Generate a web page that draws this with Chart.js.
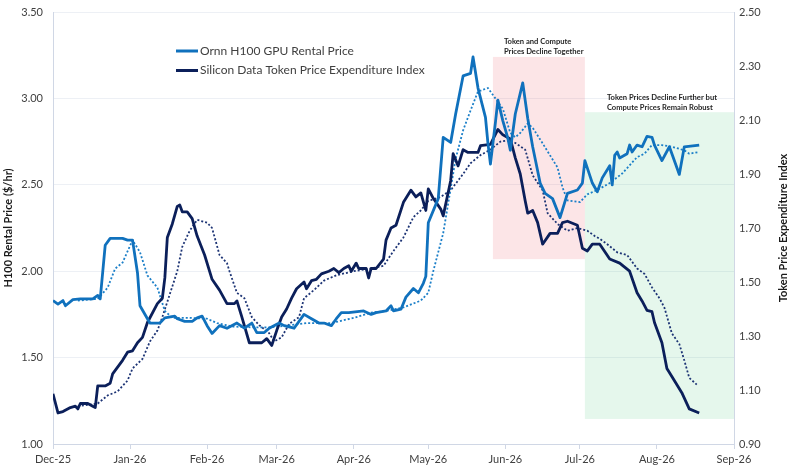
<!DOCTYPE html>
<html>
<head>
<meta charset="utf-8">
<script src="https://cdn.jsdelivr.net/npm/chart.js@4.4.1/dist/chart.umd.min.js"></script>
<style>
  html, body { margin: 0; padding: 0; background: #fff; }
  #wrap { width: 793px; height: 473px; }
</style>
</head>
<body>
<div id="wrap"><canvas id="chart"></canvas></div>
<script>
// x = days since 1 Dec 2025
const monthStarts = [0, 31, 62, 90, 121, 151, 182, 212, 243, 274];
const monthLabels = ["Dec-25", "Jan-26", "Feb-26", "Mar-26", "Apr-26", "May-26", "Jun-26", "Jul-26", "Aug-26", "Sep-26"];
const priceTicks = [1.0, 1.5, 2.0, 2.5, 3.0, 3.5];
const indexTicks = [0.9, 1.1, 1.3, 1.5, 1.7, 1.9, 2.1, 2.3, 2.5];

// Ornn H100 GPU rental price ($/hr)
const ornnDays = [0,2,4,5,8,11,16,18,19,21,23,28,30,32,34,35,38,39,43,45,49,50,53,56,58,60,62,64,67,70,74,77,80,82,85,87,91,93,97,101,104,107,109,112,114,116,119,125,128,130,134,136,137,140,142,145,147,149,150,151,155,157,160,162,165,168,169,171,174,175,176,178,179,181,183,184,186,189,191,193,196,198,201,204,207,211,213,214,217,219,221,224,225,226,227,228,231,232,233,235,237,239,241,242,245,248,252,254,260];
const ornnPrice = [1.83,1.81,1.83,1.80,1.835,1.84,1.84,1.86,1.84,2.15,2.19,2.19,2.18,2.18,1.99,1.80,1.725,1.70,1.70,1.73,1.74,1.725,1.71,1.71,1.73,1.74,1.685,1.64,1.685,1.67,1.70,1.67,1.70,1.645,1.645,1.67,1.70,1.685,1.67,1.75,1.725,1.70,1.70,1.685,1.725,1.76,1.76,1.77,1.75,1.76,1.77,1.80,1.77,1.78,1.85,1.90,1.875,1.93,1.97,2.28,2.42,2.775,2.745,2.91,3.13,3.145,3.24,3.06,2.89,2.74,2.62,2.86,2.99,2.87,2.77,2.70,2.91,3.09,2.885,2.72,2.51,2.45,2.42,2.31,2.45,2.47,2.51,2.64,2.51,2.46,2.54,2.61,2.50,2.67,2.69,2.655,2.68,2.73,2.69,2.73,2.72,2.78,2.775,2.73,2.64,2.72,2.56,2.72,2.73];

// moving average of the rental price (dotted)
const ornnAvgDays = [10,18,22,25,28,32,35,38,42,45,48,55,62,66,72,80,87,94,102,112,121,128,134,141,148,151,153,157,162,165,168,171,175,178,181,184,186,188,191,193,197,203,205,207,212,215,219,224,229,235,238,241,245,249,254,256,260];
const ornnAvg = [1.83,1.84,1.905,2.015,2.05,2.18,2.11,1.975,1.905,1.77,1.73,1.73,1.725,1.70,1.68,1.675,1.675,1.685,1.70,1.70,1.73,1.76,1.77,1.79,1.83,1.875,2.00,2.22,2.65,2.815,2.93,3.04,3.06,3.00,2.94,2.80,2.775,2.80,2.855,2.83,2.74,2.60,2.485,2.41,2.40,2.445,2.47,2.51,2.565,2.66,2.68,2.73,2.73,2.72,2.70,2.68,2.69];

// Silicon Data token price expenditure index
const tokenDays = [0,2,4,7,9,10,11,14,16,17,18,21,23,24,28,30,32,34,36,38,42,44,45,46,48,50,51,52,54,56,58,61,64,67,70,73,74,76,79,84,86,88,90,92,94,96,98,101,102,104,106,108,111,113,115,117,119,120,122,123,126,127,128,130,133,134,136,138,141,144,146,148,150,151,153,156,157,160,161,163,165,167,171,172,176,179,181,184,186,188,190,191,193,195,197,200,203,205,207,211,213,215,217,220,224,228,232,235,237,239,241,242,245,247,249,253,256,260];
const tokenIndex = [1.086,1.015,1.02,1.035,1.04,1.03,1.05,1.05,1.04,1.035,1.115,1.115,1.125,1.16,1.21,1.24,1.245,1.275,1.295,1.35,1.42,1.44,1.515,1.665,1.715,1.78,1.785,1.76,1.76,1.735,1.67,1.60,1.51,1.47,1.42,1.42,1.43,1.37,1.275,1.275,1.29,1.265,1.32,1.37,1.40,1.44,1.475,1.50,1.475,1.505,1.51,1.53,1.54,1.55,1.535,1.55,1.56,1.54,1.57,1.55,1.55,1.515,1.55,1.55,1.585,1.655,1.70,1.71,1.795,1.84,1.815,1.83,1.765,1.845,1.81,1.77,1.745,1.875,1.975,1.93,1.99,1.98,1.98,2.005,2.01,2.065,2.045,2.03,1.96,1.90,1.80,1.755,1.765,1.72,1.64,1.68,1.68,1.72,1.725,1.71,1.625,1.615,1.64,1.64,1.585,1.57,1.54,1.46,1.43,1.395,1.39,1.35,1.275,1.18,1.15,1.09,1.03,1.015];

// moving average of the index (dotted)
const tokenAvgDays = [10,18,22,26,30,32,36,39,42,44,47,50,52,55,58,62,64,67,70,71,74,77,80,83,87,89,92,95,99,101,105,109,114,121,128,133,137,141,145,148,151,156,160,165,168,172,176,180,184,186,190,193,197,199,203,207,211,215,218,220,223,227,231,235,238,241,244,246,249,252,254,256,259];
const tokenAvg = [1.04,1.05,1.08,1.095,1.135,1.18,1.215,1.28,1.32,1.37,1.455,1.54,1.63,1.69,1.73,1.72,1.70,1.60,1.57,1.54,1.46,1.44,1.37,1.34,1.31,1.28,1.295,1.345,1.37,1.44,1.47,1.505,1.525,1.54,1.55,1.56,1.615,1.665,1.74,1.765,1.80,1.815,1.84,1.90,1.94,1.97,1.99,2.02,2.025,2.015,1.99,1.895,1.84,1.755,1.715,1.69,1.70,1.69,1.67,1.66,1.64,1.61,1.60,1.55,1.53,1.48,1.44,1.405,1.31,1.27,1.21,1.145,1.12];

// shaded periods (days / $ per hour) and their notes
const periodStart = [177, 214];
const periodEnd = [214, 274];
const periodLow = [2.07, 1.145];
const periodHigh = [3.24, 2.92];
const periodNotes = [
  ["Token and Compute", "Prices Decline Together"],
  ["Token Prices Decline Further but", "Compute Prices Remain Robust"]
];

const LIGHT = "#1071bd";
const NAVY = "#0b1f5a";
const FONT = "Lato, 'Open Sans', sans-serif";
const RIGHT_TITLE = "Token Price Expenditure Index";

const zip = (xs, ys) => xs.map((x, i) => ({ x: x, y: ys[i] }));

// largeur fixe des axes verticaux, sans la marge ajoutée par ticks.padding
const fixAxis = w => s => { s.width = w; s.paddingTop = 7; s.paddingBottom = 7; };

// Fonds colorés + notes
const periodsPlugin = {
  id: "periods",
  beforeDatasetsDraw(chart) {
    const { ctx, scales } = chart;
    const fills = ["rgba(236,110,120,0.18)", "rgba(70,195,120,0.14)"];
    ctx.save();
    periodStart.forEach((s, i) => {
      const x0 = scales.x.getPixelForValue(s);
      const x1 = scales.x.getPixelForValue(periodEnd[i]);
      const y0 = scales.yPrice.getPixelForValue(periodHigh[i]);
      const y1 = scales.yPrice.getPixelForValue(periodLow[i]);
      ctx.fillStyle = fills[i];
      ctx.fillRect(x0, y0, x1 - x0, y1 - y0);
    });
    ctx.restore();
  },
  afterDraw(chart) {
    const { ctx, scales } = chart;
    ctx.save();
    ctx.font = "bold 7.6px " + FONT;
    ctx.fillStyle = "#262626";
    ctx.textBaseline = "middle";
    const offs = [11, 22];
    periodNotes.forEach((lines, i) => {
      const x0 = scales.x.getPixelForValue(periodStart[i]) + offs[i];
      const y0 = scales.yPrice.getPixelForValue(periodHigh[i]);
      ctx.fillText(lines[0], x0, y0 - 15);
      ctx.fillText(lines[1], x0, y0 - 5);
    });
    ctx.restore();
  }
};

// Légende dans le graphique + titre de l'axe droit (lu de bas en haut)
const legendPlugin = {
  id: "innerLegend",
  afterDraw(chart) {
    const { ctx, chartArea } = chart;
    const items = [[chart.data.datasets[0].label, LIGHT], [chart.data.datasets[2].label, NAVY]];
    ctx.save();
    ctx.font = "12px " + FONT;
    ctx.textBaseline = "middle";
    items.forEach((it, i) => {
      const y = 51 + i * 19.5;
      ctx.strokeStyle = it[1];
      ctx.lineWidth = 3;
      ctx.beginPath();
      ctx.moveTo(176, y);
      ctx.lineTo(198, y);
      ctx.stroke();
      ctx.fillStyle = "#404040";
      ctx.fillText(it[0], 200, y);
    });
    ctx.translate(783, (chartArea.top + chartArea.bottom) / 2);
    ctx.rotate(-Math.PI / 2);
    ctx.font = "bold 11px " + FONT;
    ctx.fillStyle = "#1a1a1a";
    ctx.textAlign = "center";
    ctx.fillText(RIGHT_TITLE, 0, 0);
    ctx.restore();
  }
};

new Chart(document.getElementById("chart"), {
  type: "line",
  data: {
    datasets: [
      { label: "Ornn H100 GPU Rental Price", data: zip(ornnDays, ornnPrice), yAxisID: "yPrice",
        borderColor: LIGHT, borderWidth: 2.8, order: 1 },
      { label: "Ornn moving average", data: zip(ornnAvgDays, ornnAvg), yAxisID: "yPrice",
        borderColor: "#1b7fc8", borderWidth: 1.8, borderDash: [2, 2], order: 3 },
      { label: "Silicon Data Token Price Expenditure Index", data: zip(tokenDays, tokenIndex), yAxisID: "yIndex",
        borderColor: NAVY, borderWidth: 2.8, order: 2 },
      { label: "Token moving average", data: zip(tokenAvgDays, tokenAvg), yAxisID: "yIndex",
        borderColor: "#1d3475", borderWidth: 1.8, borderDash: [2, 2], order: 4 }
    ]
  },
  options: {
    responsive: true,
    maintainAspectRatio: false,
    animation: false,
    elements: { point: { radius: 0 }, line: { tension: 0, borderCapStyle: "butt", borderJoinStyle: "round" } },
    layout: { padding: { top: 12, left: 0, right: 0, bottom: 0 } },
    plugins: { legend: { display: false }, tooltip: { enabled: false } },
    scales: {
      x: {
        type: "linear",
        min: 0,
        max: 274,
        afterBuildTicks: s => { s.ticks = monthStarts.map(v => ({ value: v })); },
        afterFit: s => { s.height = 29; },
        ticks: {
          autoSkip: false, maxRotation: 0, padding: 4,
          color: "#404040", font: { family: FONT, size: 11 },
          callback: v => monthLabels[monthStarts.indexOf(v)]
        },
        grid: { drawOnChartArea: false, drawTicks: true, tickLength: 5, color: "#d0d7e5" },
        border: { display: true, color: "#d0d7e5" }
      },
      yPrice: {
        position: "left",
        min: 1,
        max: 3.5,
        afterBuildTicks: s => { s.ticks = priceTicks.map(v => ({ value: v })); },
        afterFit: fixAxis(53),
        ticks: { padding: 10, color: "#404040", font: { family: FONT, size: 11 }, callback: v => v.toFixed(2) },
        grid: { color: "#edf0f5", drawTicks: false },
        border: { display: true, color: "#d0d7e5" },
        title: { display: true, text: "H100 Rental Price ($/hr)", color: "#1a1a1a",
                 font: { family: FONT, size: 11, weight: "bold" }, padding: { top: 2, bottom: 0 } }
      },
      yIndex: {
        position: "right",
        min: 0.9,
        max: 2.5,
        afterBuildTicks: s => { s.ticks = indexTicks.map(v => ({ value: v })); },
        afterFit: fixAxis(59),
        ticks: { padding: 5, color: "#404040", font: { family: FONT, size: 11 }, callback: v => v.toFixed(2) },
        grid: { drawOnChartArea: false, drawTicks: false },
        border: { display: true, color: "#d0d7e5" }
      }
    }
  },
  plugins: [periodsPlugin, legendPlugin]
});
</script>
</body>
</html>
